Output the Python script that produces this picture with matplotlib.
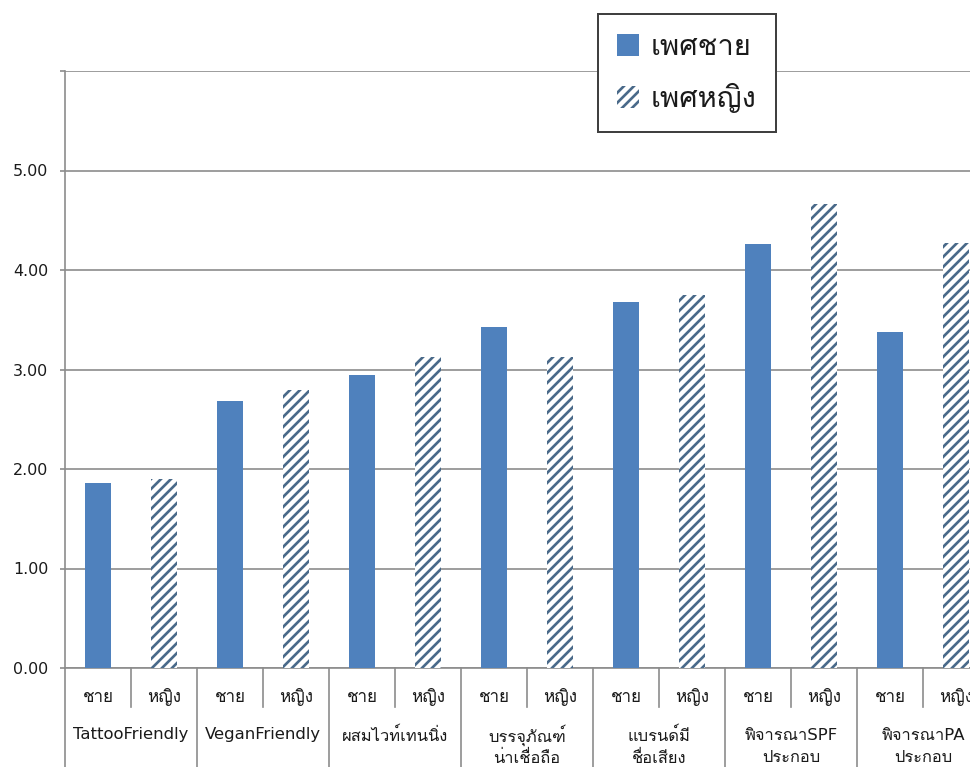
import matplotlib
matplotlib.use("Agg")
import matplotlib.pyplot as plt
import numpy as np

# Survey means by gender for each product attribute
groups = ["TattooFriendly", "VeganFriendly", "ผสมไวท์เทนนิ่ง",
          "บรรจุภัณฑ์\nน่าเชื่อถือ", "แบรนด์มี\nชื่อเสียง",
          "พิจารณาSPF\nประกอบ", "พิจารณาPA\nประกอบ"]
sub_labels = ["ชาย", "หญิง"]
series_names = ["เพศชาย", "เพศหญิง"]
male = [1.86, 2.68, 2.94, 3.43, 3.68, 4.26, 3.38]
female = [1.90, 2.79, 3.13, 3.13, 3.75, 4.66, 4.27]
y_ticks = [0, 1, 2, 3, 4, 5, 6]

DPI = 120
W, H = 970, 767
plt.rcParams["font.family"] = ["DejaVu Sans", "Loma"]
plt.rcParams["hatch.linewidth"] = 1.6

BLUE = "#4F81BD"
STRIPE = "#4A6A8A"
GRID = "#8C8C8C"
TEXT = "#1A1A1A"

fig = plt.figure(figsize=(W / DPI, H / DPI), dpi=DPI, facecolor="white")
# plot area runs past the right edge of the image
ax_left, ax_bottom, ax_w, ax_h = 65 / W, 99 / H, 924 / W, 597 / H
ax = fig.add_axes([ax_left, ax_bottom, ax_w, ax_h])
ax_h_px = ax_h * H

n = len(groups)
x_male = np.arange(n) * 2 + 0.5
x_female = np.arange(n) * 2 + 1.5
bw = 0.4

ax.bar(x_male, male, width=bw, color=BLUE, linewidth=0, label=series_names[0], zorder=3)
ax.bar(x_female, female, width=bw, color="white", edgecolor=STRIPE, hatch="////",
       linewidth=0, label=series_names[1], zorder=3)

ax.set_xlim(0, 2 * n)
ax.set_ylim(0, 6)
ax.set_yticks(y_ticks)
ax.set_yticklabels([f"{v:.2f}" if v < 6 else "" for v in y_ticks])
ax.set_xticks([])
ax.yaxis.grid(True, color=GRID, linewidth=1.0)
ax.set_axisbelow(True)
ax.tick_params(axis="y", length=3, width=1.0, color=GRID, pad=7,
               labelsize=9.5, labelcolor=TEXT)
for side in ("top", "right"):
    ax.spines[side].set_visible(False)
for side in ("left", "bottom"):
    ax.spines[side].set_color(GRID)
    ax.spines[side].set_linewidth(1.0)

tr = ax.get_xaxis_transform()


def frac(px):
    return -px / ax_h_px


# two-level category axis
for i in range(n):
    for j, lab in enumerate(sub_labels):
        ax.text(2 * i + j + 0.5, frac(29), lab, transform=tr, ha="center",
                va="center", fontsize=10.2, color=TEXT)
    ax.plot([2 * i + 1, 2 * i + 1], [0, frac(39)], transform=tr, color=GRID,
            linewidth=1.0, clip_on=False)
    for k, line in enumerate(groups[i].split("\n")):
        ax.text(2 * i + 1, frac(67 + 23 * k), line, transform=tr, ha="center",
                va="center", fontsize=9.9, color=TEXT)
for g in range(n + 1):
    ax.plot([2 * g, 2 * g], [0, frac(120)], transform=tr, color=GRID,
            linewidth=1.0, clip_on=False)

leg = fig.legend(loc="upper left", bbox_to_anchor=(598 / W, 1 - 14 / H),
                 borderaxespad=0, fontsize=17.5, frameon=True, fancybox=False,
                 framealpha=1, edgecolor="#404040", handlelength=0.76,
                 handleheight=0.76, handletextpad=0.4, labelspacing=0.75,
                 borderpad=0.65)
leg.get_frame().set_linewidth(1.2)
for t in leg.get_texts():
    t.set_color(TEXT)

fig.savefig("out.png", dpi=DPI, facecolor="white")
